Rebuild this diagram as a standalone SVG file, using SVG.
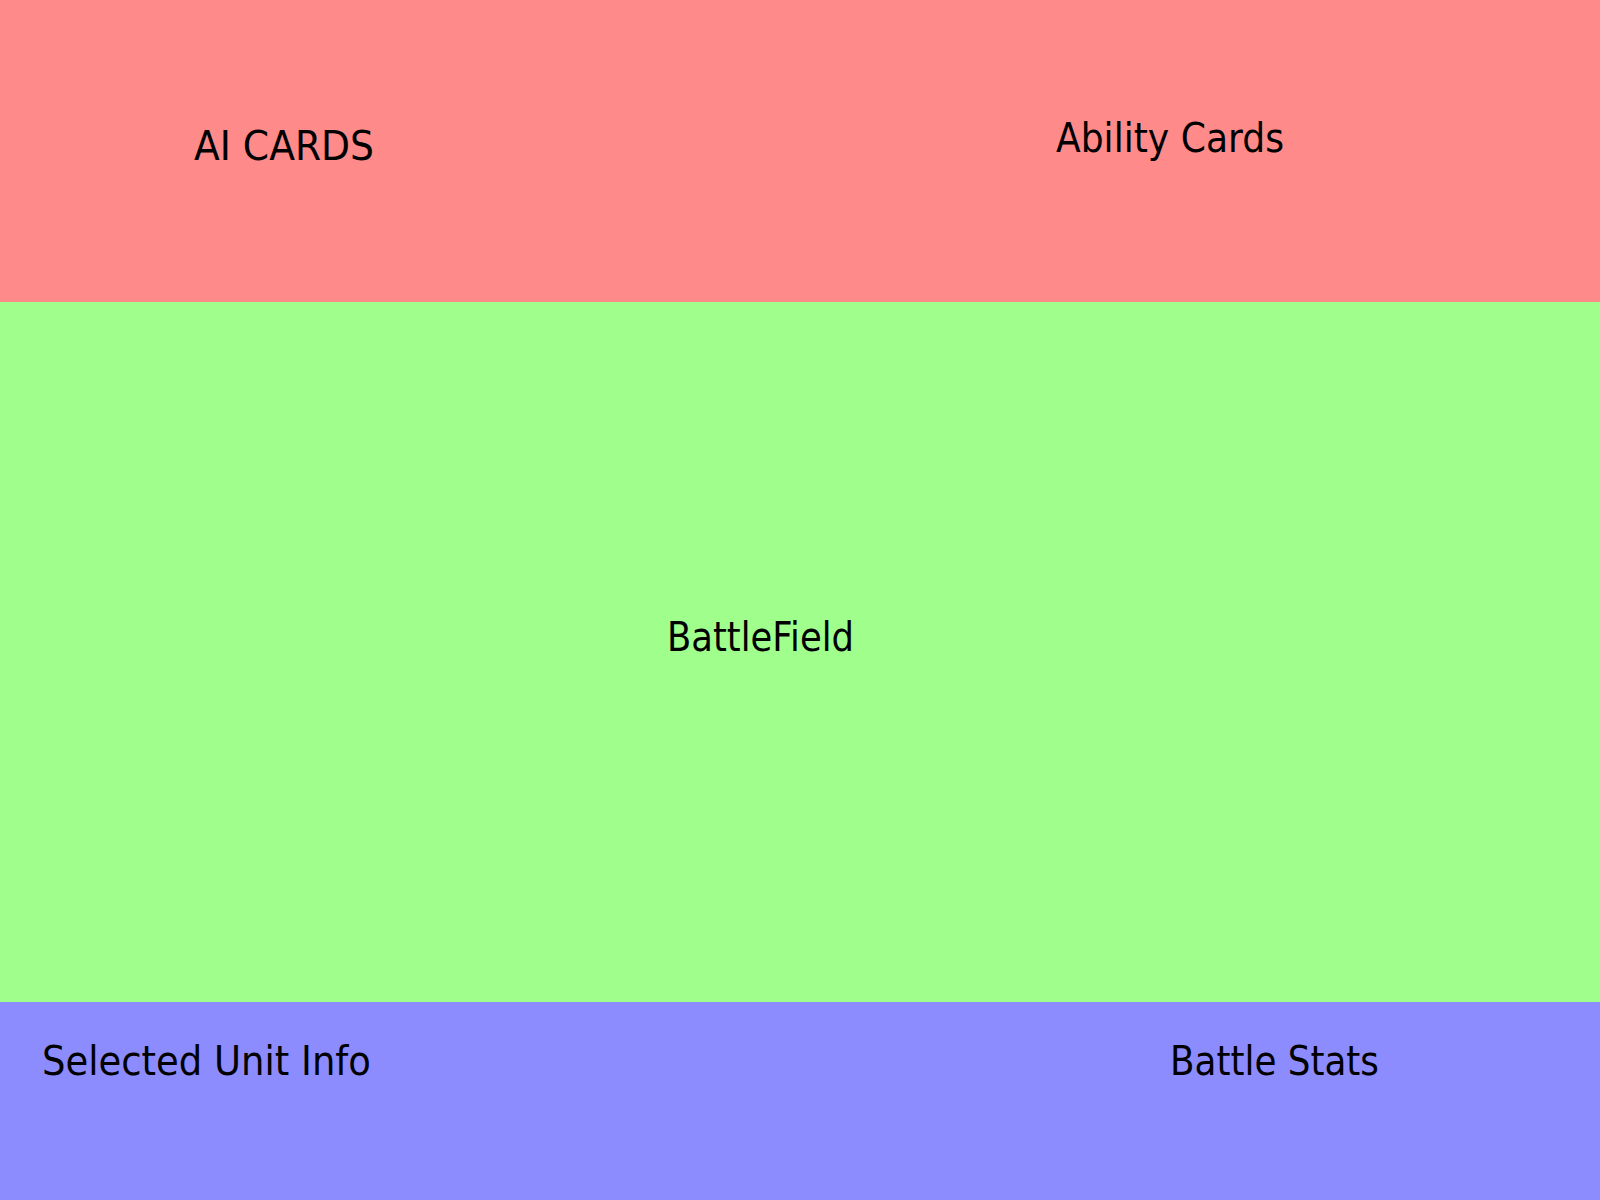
<svg xmlns="http://www.w3.org/2000/svg" width="1600" height="1200" viewBox="0 0 1600 1200">
<style>
.lbl{font-family:"DejaVu Sans","Verdana",sans-serif;font-size:40px;fill:#000;}
</style>
<g id="top-panel">
<rect x="0" y="0" width="1600" height="302" fill="#FF8A8A"/>
</g>
<g id="ai-cards"><text class="lbl" x="194" y="160" textLength="180" lengthAdjust="spacingAndGlyphs">AI CARDS</text></g>
<g id="ability-cards"><text class="lbl" x="1056" y="152" textLength="228" lengthAdjust="spacingAndGlyphs">Ability Cards</text></g>
<g id="battlefield">
<rect x="0" y="302" width="1600" height="700" fill="#A0FF8C"/>
<text class="lbl" x="667" y="651" textLength="187" lengthAdjust="spacingAndGlyphs">BattleField</text>
</g>
<g id="bottom-panel">
<rect x="0" y="1002" width="1600" height="198" fill="#8C8CFF"/>
</g>
<g id="selected-unit-info"><text class="lbl" x="42" y="1075" textLength="329" lengthAdjust="spacingAndGlyphs">Selected Unit Info</text></g>
<g id="battle-stats"><text class="lbl" x="1170" y="1075" textLength="209" lengthAdjust="spacingAndGlyphs">Battle Stats</text></g>
<g id="connectors"/>
</svg>
